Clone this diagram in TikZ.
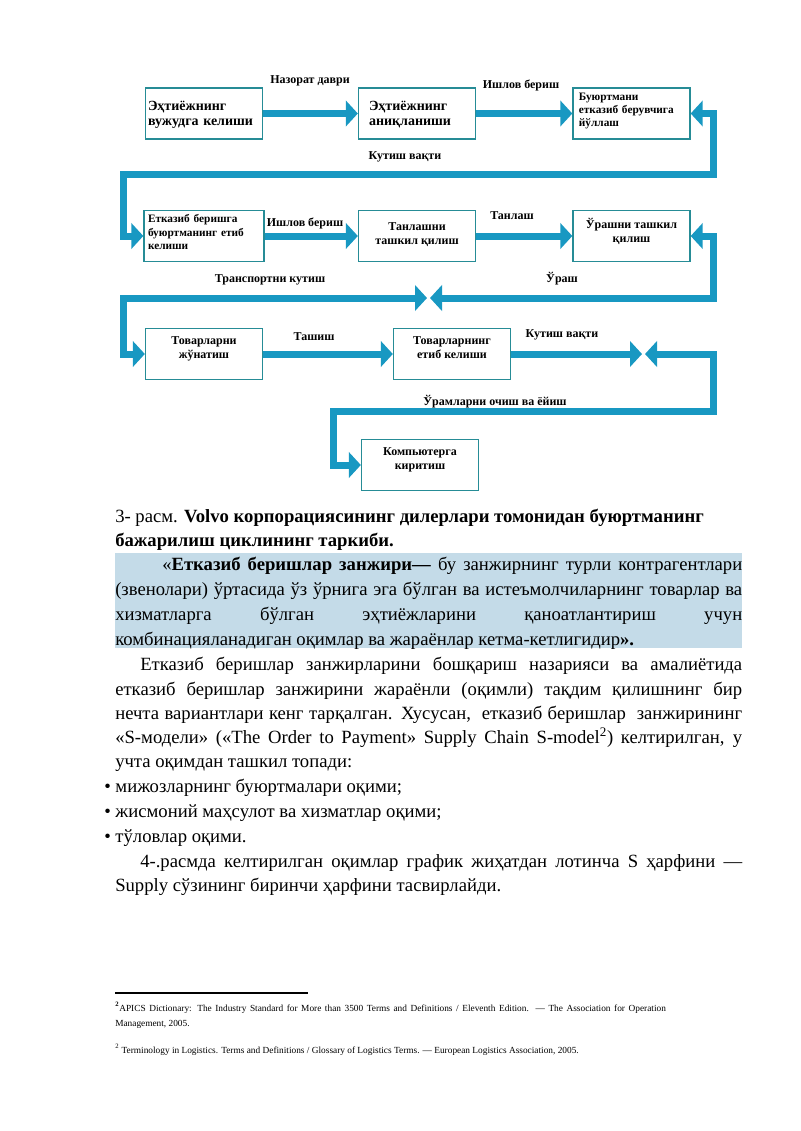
\documentclass[tikz,border=0pt]{standalone}
\usepackage{fontspec}
\setmainfont{Liberation Serif}
\usetikzlibrary{arrows.meta}
\definecolor{bandblue}{RGB}{24,152,194}
\definecolor{boxteal}{RGB}{38,140,150}
\definecolor{hilite}{RGB}{196,219,232}
\tikzstyle{stage} = [rectangle, minimum width=87.75pt, minimum height=38.25pt, inner sep=3pt, text depth=9pt, draw=boxteal, line width=1pt, font=\bfseries\fontsize{9}{10.5}\selectfont]
\tikzstyle{bigstage} = [stage, inner xsep=1.5pt, text depth=12pt, font=\bfseries\fontsize{10.5}{11.5}\selectfont]
\tikzstyle{smallstage} = [stage, inner ysep=0pt, text height=9pt, text depth=29pt, font=\bfseries\fontsize{8.5}{10}\selectfont]
\tikzstyle{tag} = [inner sep=1pt, font=\bfseries\fontsize{9}{10}\selectfont]
\tikzstyle{band} = [line width=5.25pt, draw=bandblue, -{Triangle[length=9pt,width=19pt]}]
\tikzstyle{bandboth} = [band, {Triangle[length=9pt,width=19pt]}-{Triangle[length=9pt,width=19pt]}]
\tikzstyle{textline} = [anchor=base west, inner sep=0pt, font=\fontsize{14}{16}\selectfont]
\tikzstyle{noteline} = [anchor=base west, inner sep=0pt, font=\fontsize{7}{8}\selectfont]

\begin{document}
\begin{tikzpicture}[x=0.75pt,y=-0.75pt]
\useasboundingbox (0,0) rectangle (800,1131);

% Nodes
\node (box1) at (204,113.5) [bigstage, text width=84pt, align=left] {Эҳтиёжнинг\\вужудга келиши};
\node (box2) at (417,113.5) [bigstage, text width=72pt, align=left] {Эҳтиёжнинг\\аниқланиши};
\node (box3) at (631.5,113.5) [smallstage, text width=79pt, align=left] {Буюртмани\\етказиб берувчига\\йўллаш};

\node (box4) at (204,236) [smallstage, text width=84pt, align=left] {Етказиб беришга\\буюртманинг етиб\\келиши};
\node (box5) at (417,236) [stage, text depth=4pt, align=center] {Танлашни\\ташкил қилиш};
\node (box6) at (631.5,236) [stage, align=center] {Ўрашни ташкил\\қилиш};

\node (box7) at (204,354) [stage, align=center] {Товарларни\\жўнатиш};
\node (box8) at (452,354) [stage, align=center] {Товарларнинг\\етиб келиши};

\node (box9) at (420,465) [stage, align=center] {Компьютерга\\киритиш};

% Labels
\node (tagA) at (310,81) [tag] {Назорат даври};
\node (tagB) at (521,85) [tag] {Ишлов бериш};
\node (tagC) at (405,157) [tag] {Кутиш вақти};
\node (tagD) at (305,223) [tag] {Ишлов бериш};
\node (tagE) at (512,216) [tag] {Танлаш};
\node (tagF) at (270,280) [tag] {Транспортни кутиш};
\node (tagG) at (562,279) [tag] {Ўраш};
\node (tagH) at (314,337) [tag] {Ташиш};
\node (tagI) at (562,335) [tag] {Кутиш вақти};
\node (tagJ) at (495,402) [tag] {Ўрамларни очиш ва ёйиш};

% Turns
\coordinate (turnA1) at (713,174);
\coordinate (turnA2) at (123,174);
\coordinate (turnB1) at (713,298);
\coordinate (meetBr) at (430,298);
\coordinate (meetBl) at (427,298);
\coordinate (turnB2) at (123,298);
\coordinate (meetCl) at (642,354);
\coordinate (meetCr) at (645,354);
\coordinate (turnD1) at (713,411);
\coordinate (turnD2) at (333,411);

% Arrows
\draw [band] (box1) -- (box2);
\draw [band] (box2) -- (box3);
\draw [bandboth] (box3.east) -| (turnA1) -- (turnA2) |- (box4.west);

\draw [band] (box4) -- (box5);
\draw [band] (box5) -- (box6);
\draw [bandboth] (box6.east) -| (turnB1) -- (meetBr);
\draw [bandboth] (meetBl) -- (turnB2) |- (box7.west);

\draw [band] (box7) -- (box8);
\draw [band] (box8.east) -- (meetCl);
\draw [bandboth] (meetCr) -| (turnD1) -- (turnD2) |- (box9.west);

% Text
\fill [hilite] (115,553) rectangle (742,648);

\node (cap1) at (115,522) [textline] {3- расм. \textbf{Volvo корпорациясининг дилерлари томонидан буюртманинг}};
\node (cap2) at (115,546) [textline] {\textbf{бажарилиш циклининг таркиби.}};

\node (def1) at (162,570) [textline] {\makebox[435pt][s]{«\textbf{Етказиб беришлар занжири—} бу занжирнинг турли контрагентлари}};
\node (def2) at (115,595) [textline] {\makebox[470.25pt][s]{(звенолари) ўртасида ўз ўрнига эга бўлган ва истеъмолчиларнинг товарлар ва}};
\node (def3) at (115,620) [textline] {\makebox[470.25pt][s]{хизматларга бўлган эҳтиёжларини қаноатлантириш учун}};
\node (def4) at (115,645) [textline] {комбинацияланадиган оқимлар ва жараёнлар кетма-кетлигидир\textbf{».}};

\node (par1) at (140,670) [textline] {\makebox[451.5pt][s]{Етказиб беришлар занжирларини бошқариш назарияси ва амалиётида}};
\node (par2) at (115,695) [textline] {\makebox[470.25pt][s]{етказиб беришлар занжирини жараёнли (оқимли) тақдим қилишнинг бир}};
\node (par3) at (115,719) [textline] {\makebox[470.25pt][s]{нечта вариантлари кенг тарқалган. Хусусан,\ \ етказиб беришлар\ \ занжирининг}};
\node (par4) at (115,743) [textline] {\makebox[470.25pt][s]{«S-модели» («The Order to Payment» Supply Chain S-model\textsuperscript{2}) келтирилган, у}};
\node (par5) at (115,767) [textline] {учта оқимдан ташкил топади:};

\node (item1) at (104,792) [textline] {• мижозларнинг буюртмалари оқими;};
\node (item2) at (104,817) [textline] {• жисмоний маҳсулот ва хизматлар оқими;};
\node (item3) at (104,842) [textline] {• тўловлар оқими.};

\node (fin1) at (140,867) [textline] {\makebox[451.5pt][s]{4-.расмда келтирилган оқимлар график жиҳатдан лотинча S ҳарфини —}};
\node (fin2) at (115,891) [textline] {Supply сўзининг биринчи ҳарфини тасвирлайди.};

% Footnotes
\draw [line width=0.9pt] (115,993) -- (308,993);
\node (noteA1) at (115,1011) [noteline] {\makebox[413pt][s]{\textsuperscript{\textbf{2}}APICS Dictionary: The Industry Standard for More than 3500 Terms and Definitions / Eleventh Edition. — The Association for Operation}};
\node (noteA2) at (115,1026) [noteline] {Management, 2005.};
\node (noteB) at (115,1053) [noteline] {\textsuperscript{2} Terminology in Logistics. Terms and Definitions / Glossary of Logistics Terms. — European Logistics Association, 2005.};

\end{tikzpicture}
\end{document}
